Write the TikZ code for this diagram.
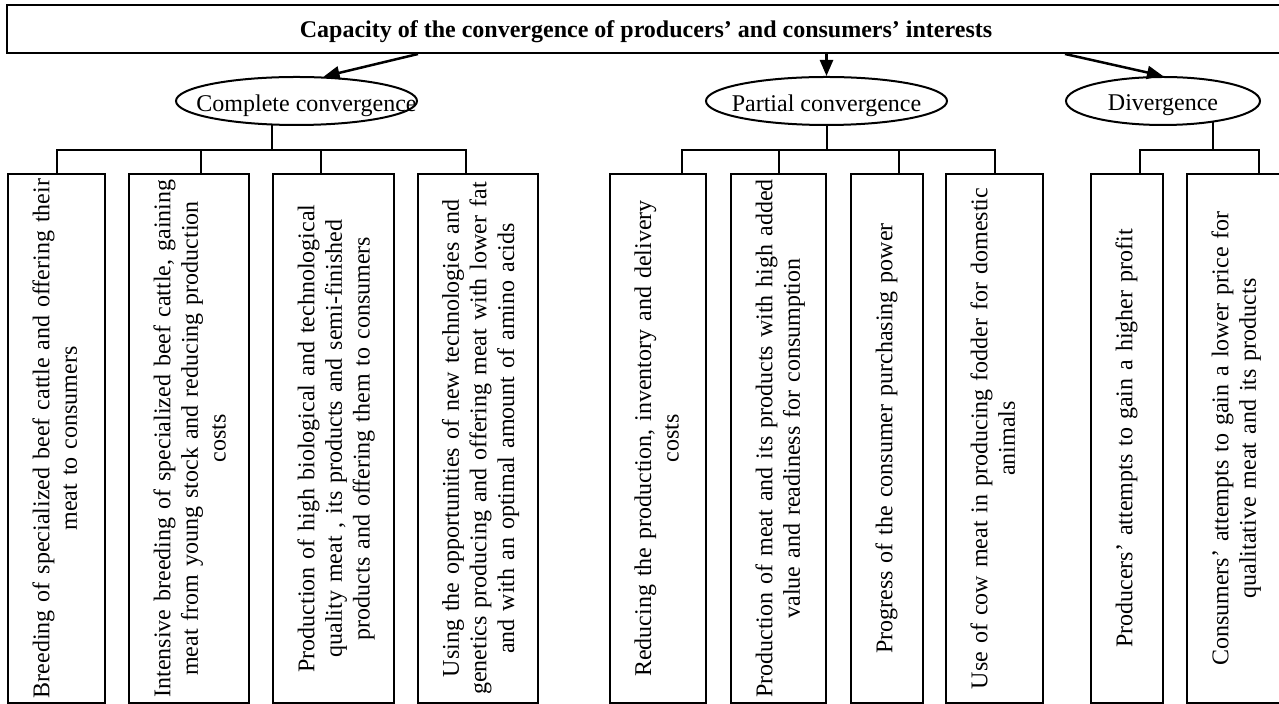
\documentclass[tikz,border=0pt]{standalone}
\usepackage{fontspec}
\setmainfont{Liberation Serif}
\usetikzlibrary{arrows.meta,shapes.geometric}

\begin{document}
\begin{tikzpicture}
[
    x=0.5pt, y=-0.5pt,
    every node/.style={font=\fontsize{12}{13.8}\selectfont},
    capbox/.style={draw, line width=1pt, minimum width=639pt, minimum height=24pt, inner sep=0pt, text depth=0pt, font=\fontsize{12}{13.8}\selectfont\bfseries},
    groupell/.style={draw, ellipse, line width=1pt, minimum height=24pt, inner sep=0pt},
    itembox/.style={draw, line width=1pt, minimum height=264.5pt, inner sep=0pt},
    itemtext/.style={rotate=90, anchor=north, align=center, text width=264pt, inner sep=0pt},
    link/.style={line width=1pt},
    branch/.style={line width=1.25pt, -{Triangle[length=8pt,width=6.5pt]}}
]
    \useasboundingbox (0,0) rectangle (1279,704);
    \clip (0,0) rectangle (1279,704);

    \node [capbox] (cap) at (646,29) {Capacity of the convergence of producers’ and consumers’ interests};

    \node [groupell, minimum width=120.5pt, label={[text depth=0pt, yshift=-1pt, xshift=5pt]center:Complete convergence}] (comp) at (296.5,101) {};
    \node [groupell, minimum width=120.5pt, label={[text depth=0pt, yshift=-1pt]center:Partial convergence}] (part) at (826.5,101) {};
    \node [groupell, minimum width=97pt, label={[text depth=0pt, yshift=-1pt]center:Divergence}] (div) at (1163,101) {};

    \draw [branch] (cap.south -| comp.east) -- (comp.42);
    \draw [branch] (cap.south -| part.north) -- (part.north);
    \draw [branch] (cap.south -| div.west) -- (div.north);

    \node [itembox, minimum width=48.5pt] (b1) at (56.5,438.5) {};
    \node [itembox, minimum width=60pt] (b2) at (189,438.5) {};
    \node [itembox, minimum width=60.5pt] (b3) at (333.5,438.5) {};
    \node [itembox, minimum width=60.25pt] (b4) at (477.75,438.5) {};
    \node [itembox, minimum width=48pt] (p1) at (658,438.5) {};
    \node [itembox, minimum width=47.5pt] (p2) at (778.5,438.5) {};
    \node [itembox, minimum width=36pt] (p3) at (887,438.5) {};
    \node [itembox, minimum width=48.5pt] (p4) at (994.5,438.5) {};
    \node [itembox, minimum width=36pt] (d1) at (1127,438.5) {};
    \node [itembox, minimum width=72pt] (d2) at (1259,438.5) {};

    \node [itemtext] (b1t) at ([xshift=12.5pt]b1.west) {Breeding of specialized beef cattle and offering their\\ meat to consumers};
    \node [itemtext] (b2t) at ([xshift=12.5pt]b2.west) {Intensive breeding of specialized beef cattle, gaining\\ meat from young stock and reducing production\\ costs};
    \node [itemtext] (b3t) at ([xshift=12.5pt]b3.west) {Production of high biological and technological\\ quality meat , its products and semi-finished\\ products and offering them to consumers};
    \node [itemtext] (b4t) at ([xshift=12.5pt]b4.west) {Using the opportunities of new technologies and\\ genetics producing and offering meat with lower fat\\ and with an optimal amount of amino acids};
    \node [itemtext] (p1t) at ([xshift=12.5pt]p1.west) {Reducing the production, inventory and delivery\\ costs};
    \node [itemtext] (p2t) at ([xshift=12.5pt]p2.west) {Production of meat and its products with high added\\ value and readiness for consumption};
    \node [itemtext] (p3t) at ([xshift=12.5pt]p3.west) {Progress of the consumer purchasing power};
    \node [itemtext] (p4t) at ([xshift=12.5pt]p4.west) {Use of cow meat in producing fodder for domestic\\ animals};
    \node [itemtext] (d1t) at ([xshift=12.5pt]d1.west) {Producers’ attempts to gain a higher profit};
    \node [itemtext] (d2t) at ([xshift=12.5pt]d2.west) {Consumers’ attempts to gain a lower price for\\ qualitative meat and its products};

    \coordinate (cbar) at (0,150);
    \foreach \b/\s in {b1/0pt,b2/6pt,b3/-6.25pt,b4/-5.9pt}
        \draw [link] (comp.-135) -- (comp.-135 |- cbar) -| ([xshift=\s]\b.north);
    \foreach \b/\s in {p1/12pt,p2/0pt,p3/6pt,p4/0pt}
        \draw [link] (part.south) -- (part.south |- cbar) -| ([xshift=\s]\b.north);
    \foreach \b/\s in {d1/6.5pt,d2/0pt}
        \draw [link] (div.-23) -- (div.-23 |- cbar) -| ([xshift=\s]\b.north);
\end{tikzpicture}
\end{document}
